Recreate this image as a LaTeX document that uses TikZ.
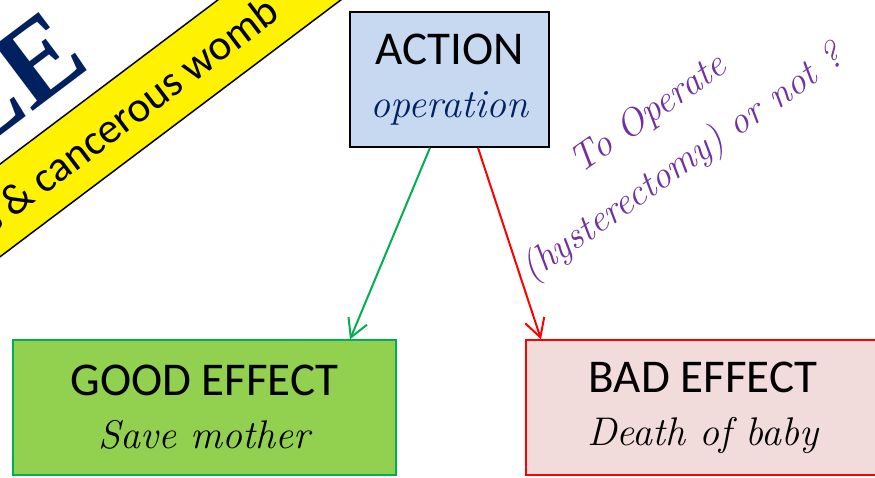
\documentclass[tikz,border=0pt]{standalone}
\usepackage{fontspec}
\setsansfont{Carlito}
\newfontfamily\titlefont{Liberation Serif}
\usetikzlibrary{arrows.meta,positioning}
\definecolor{actionblue}{RGB}{198,217,241}
\definecolor{goodfill}{RGB}{146,208,80}
\definecolor{gooddraw}{RGB}{0,176,80}
\definecolor{badfill}{RGB}{242,220,219}
\definecolor{navy}{RGB}{0,32,96}
\definecolor{askpurple}{RGB}{112,48,160}
\begin{document}
\begin{tikzpicture}[x=1pt,y=-1pt,
					actionnode/.style={rectangle,
					line width=1.5pt,
					minimum width=199pt,
					minimum height=135pt,
					inner sep=0pt,
					align=center,
					draw=black,
					fill=actionblue,
					font=\sffamily\fontsize{47}{53}\selectfont},
					goodnode/.style={rectangle,
					line width=1.2pt,
					minimum width=383pt,
					minimum height=135pt,
					inner sep=0pt,
					align=center,
					draw=gooddraw,
					fill=goodfill,
					font=\sffamily\fontsize{47}{53}\selectfont},
					badnode/.style={rectangle,
					line width=1.5pt,
					minimum width=354pt,
					minimum height=135pt,
					inner sep=0pt,
					align=center,
					draw=red,
					fill=badfill,
					font=\sffamily\fontsize{47}{53}\selectfont},
					banner/.style={rectangle,
					rotate=37,
					line width=1.5pt,
					minimum width=760pt,
					minimum height=74pt,
					inner sep=0pt,
					draw=black,
					fill=yellow,
					font=\sffamily\fontsize{43}{48}\selectfont},
					question/.style={rotate=35,
					align=center,
					text=askpurple,
					font=\itshape\fontsize{38}{60}\selectfont},
					node distance = 498.5pt
					]
\useasboundingbox (0,0) rectangle (875,477);
\clip (0,0) rectangle (875,477);

% banner and title
\node[banner]  (womb) at (128,114) {s \& cancerous womb};
\node[rotate=37, anchor=base east, text=navy, font=\titlefont\bfseries\fontsize{115}{115}\selectfont]  (title) at (96,64) {LE};

%top node
\node[actionnode]  (action) at (449.5,79.5) {ACTION\\{\rmfamily\itshape\color{navy}\fontsize{40}{53}\selectfont operation}};

% effects
\node[goodnode]  (good) at (204.5,407.5) {GOOD EFFECT\\{\rmfamily\itshape\fontsize{40}{53}\selectfont Save mother}};
\node[badnode]  (bad) [right of = good] {BAD EFFECT\\{\rmfamily\itshape\fontsize{40}{53}\selectfont Death of baby}};

% question
\node[question]  (ask) at (667,140) {To Operate\\(hysterectomy) or not ?};

% Arrows
\draw [-{Straight Barb[length=18pt,width=20pt]}, line width=2pt, draw=gooddraw] ([xshift=-19.5pt]action.south) -- ([xshift=145.5pt]good.north);
\draw [-{Straight Barb[length=18pt,width=20pt]}, line width=2pt, draw=red] ([xshift=28.5pt]action.south) -- ([xshift=-162pt]bad.north);

\end{tikzpicture}
\end{document}
